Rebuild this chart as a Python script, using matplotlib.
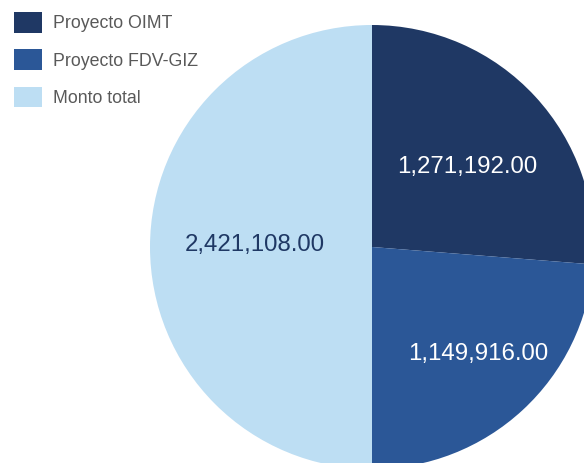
import numpy as np
import matplotlib.pyplot as plt

plt.rcParams['font.family'] = ['Liberation Sans', 'DejaVu Sans']

labels = ["Proyecto OIMT", "Proyecto FDV-GIZ", "Monto total"]
values = [1271192.00, 1149916.00, 2421108.00]
colors = ["#1F3864", "#2B5797", "#BDDEF3"]
text_colors = ["white", "white", "#1F3864"]
label_dist = [0.56, 0.68, 0.527]
label_shift = [-2.5, 2.0, -1.0]  # degrees

W, H = 584, 463
cx, cy, R = 372, H - 247, 222
fig = plt.figure(figsize=(W / 100, H / 100), dpi=100)
ax = fig.add_axes([0, 0, 1, 1])

wedges, _ = ax.pie(values, colors=colors, startangle=90, counterclock=False,
                   center=(cx, cy), radius=R, frame=True,
                   wedgeprops=dict(linewidth=0))
for w, v, c, d, s in zip(wedges, values, text_colors, label_dist, label_shift):
    ang = np.deg2rad((w.theta1 + w.theta2) / 2 + s)
    ax.text(cx + d * R * np.cos(ang), cy + d * R * np.sin(ang), f"{v:,.2f}",
            color=c, fontsize=17.3, ha='center', va='center')

ax.set_xlim(0, W)
ax.set_ylim(0, H)
ax.set_aspect('equal')
ax.axis('off')

ax.legend(wedges, labels, loc='upper left', bbox_to_anchor=(14 / W, 1 - 12 / H),
          frameon=False, fontsize=12.8, labelcolor="#595959",
          handlelength=1.6, handleheight=1.42, handletextpad=0.62,
          labelspacing=0.93, borderpad=0, borderaxespad=0)

plt.savefig('out.png', dpi=100)
